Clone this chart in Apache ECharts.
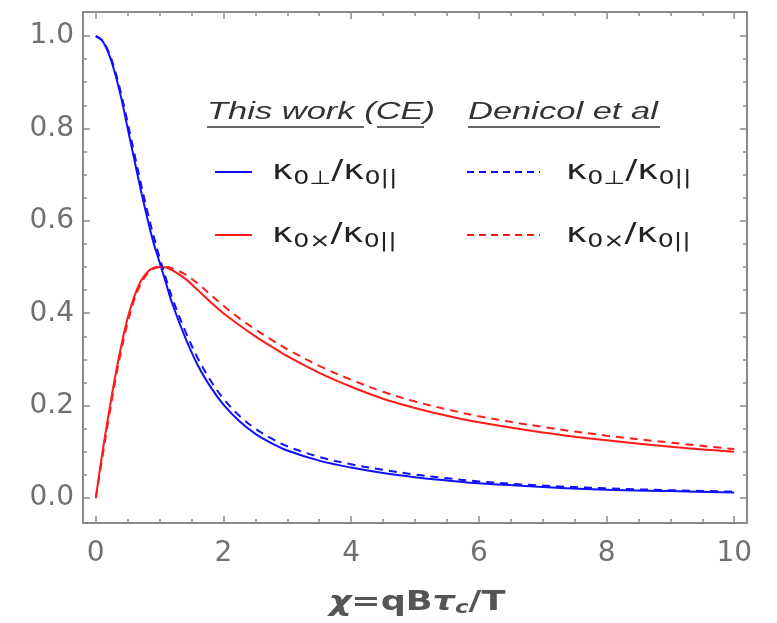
<!DOCTYPE html>
<html>
<head>
<meta charset="utf-8">
<script src="https://cdn.jsdelivr.net/npm/echarts@6/dist/echarts.min.js"></script>
<style>html,body{margin:0;padding:0;background:#fff}#c{width:777px;height:623px}</style>
</head>
<body>
<div id="c"></div>
<script>
// ---- data ----
const chi = [0,0.1,0.2,0.3,0.4,0.5,0.6,0.7,0.8,0.9,1.0,1.1,1.2,1.4,1.6,1.8,2.0,2.25,2.5,2.75,3.0,3.5,4.0,4.5,5.0,5.5,6.0,7.0,8.0,9.0,10.0];
const perpCE = [1.0,0.99,0.963,0.92,0.865,0.80,0.735,0.67,0.61,0.555,0.51,0.465,0.42,0.348,0.287,0.24,0.202,0.166,0.139,0.119,0.103,0.081,0.066,0.054,0.045,0.038,0.032,0.024,0.018,0.015,0.012];
const perpDen = [1.0,0.991,0.966,0.926,0.874,0.812,0.748,0.685,0.625,0.57,0.52,0.475,0.432,0.362,0.302,0.254,0.215,0.178,0.150,0.129,0.112,0.089,0.073,0.061,0.051,0.043,0.036,0.027,0.021,0.017,0.014];
const crossCE = [0,0.095,0.18,0.26,0.33,0.39,0.435,0.468,0.488,0.498,0.50,0.499,0.493,0.475,0.45,0.424,0.40,0.374,0.350,0.328,0.307,0.271,0.241,0.215,0.195,0.178,0.164,0.142,0.125,0.111,0.100];
const crossDen = [0,0.085,0.17,0.25,0.32,0.38,0.428,0.462,0.484,0.496,0.50,0.50,0.497,0.484,0.464,0.44,0.416,0.389,0.365,0.343,0.322,0.286,0.256,0.230,0.209,0.192,0.177,0.154,0.135,0.120,0.106];
const xMajor = [0,2,4,6,8,10];
const xMinor = [0.5,1,1.5,2.5,3,3.5,4.5,5,5.5,6.5,7,7.5,8.5,9,9.5];
const yMajor = [0,0.2,0.4,0.6,0.8,1.0];
const yMinor = [0.05,0.1,0.15,0.25,0.3,0.35,0.45,0.5,0.55,0.65,0.7,0.75,0.85,0.9,0.95];

const pairs = (xs, ys) => xs.map((x, i) => [x, ys[i]]);
const AX = '#8a8a8a';
const LBL = '#707070';

function xAx(pos, ticks, len, showLine, showLabel) {
  return {
    type: 'value', min: -0.2, max: 10.2, position: pos,
    axisLine: { show: showLine, onZero: false, lineStyle: { color: AX, width: 2 } },
    axisTick: { show: true, inside: true, length: len, customValues: ticks, lineStyle: { color: AX, width: 1.5 } },
    axisLabel: showLabel ? { show: true, customValues: ticks, margin: 17, color: LBL, fontSize: 28, fontFamily: 'DejaVu Sans', formatter: v => String(Math.round(v)) } : { show: false },
    splitLine: { show: false }
  };
}
function yAx(pos, ticks, len, showLine, showLabel) {
  return {
    type: 'value', min: -0.054, max: 1.052, position: pos,
    axisLine: { show: showLine, onZero: false, lineStyle: { color: AX, width: 2 } },
    axisTick: { show: true, inside: true, length: len, customValues: ticks, lineStyle: { color: AX, width: 1.5 } },
    axisLabel: showLabel ? { show: true, customValues: ticks, margin: 9, color: LBL, fontSize: 28, fontFamily: 'DejaVu Sans', formatter: v => v.toFixed(1) } : { show: false },
    splitLine: { show: false }
  };
}

const chart = echarts.init(document.getElementById('c'));
const kappa = (sub) => ({
  text: '{k|κ}{s|0' + sub + '}{k|/}{k|κ}{s|0||}',
  rich: {
    k: { fontSize: 27, fontFamily: 'DejaVu Sans', fill: '#222' },
    s: { fontSize: 19, fontFamily: 'DejaVu Sans', fill: '#222', padding: [15, 0, 0, 0] }
  }
});
function legText(x, y, sub) {
  const t = kappa(sub);
  return { type: 'text', x: x, y: y, scaleX: 1.33, style: Object.assign({ x: 0, y: 0, textVerticalAlign: 'middle', textAlign: 'left' }, t) };
}
function legLine(x1, x2, y, color, dashed) {
  return { type: 'line', shape: { x1: x1, y1: y, x2: x2, y2: y }, style: { stroke: color, lineWidth: 2, lineDash: dashed ? [7, 5] : null } };
}
const header = { fontSize: 23, fontFamily: 'Liberation Sans', fontStyle: 'italic', fill: '#333' };
const lineSeries = (name, ys, color, dashed, z) => ({
  name: name, type: 'line', data: pairs(chi, ys), showSymbol: false, smooth: 0.35,
  lineStyle: { color: color, width: 2, type: dashed ? [8, 6] : 'solid' }, z: z
});

chart.setOption({
  animation: false,
  backgroundColor: '#fff',
  grid: { left: 83, right: 30, top: 12, bottom: 100, show: false },
  xAxis: [xAx('bottom', xMajor, 7, true, true), xAx('bottom', xMinor, 4, false, false), xAx('top', xMajor, 7, true, false), xAx('top', xMinor, 4, false, false)],
  yAxis: [yAx('left', yMajor, 7, true, true), yAx('left', yMinor, 4, false, false), yAx('right', yMajor, 7, true, false), yAx('right', yMinor, 4, false, false)],
  series: [
    lineSeries('CE perp', perpCE, '#1010ff', false, 3),
    lineSeries('CE cross', crossCE, '#ff1a1a', false, 3),
    lineSeries('Den perp', perpDen, '#1010ff', true, 4),
    lineSeries('Den cross', crossDen, '#ff1a1a', true, 4)
  ],
  graphic: [
    { type: 'text', x: 207, y: 113, scaleX: 1.5, style: Object.assign({ text: 'This work (CE)', x: 0, y: 0, textVerticalAlign: 'middle' }, header) },
    { type: 'text', x: 468, y: 113, scaleX: 1.5, style: Object.assign({ text: 'Denicol et al', x: 0, y: 0, textVerticalAlign: 'middle' }, header) },
    { type: 'line', shape: { x1: 207, y1: 127, x2: 364, y2: 127 }, style: { stroke: '#666', lineWidth: 2 } },
    { type: 'line', shape: { x1: 377, y1: 127, x2: 424, y2: 127 }, style: { stroke: '#666', lineWidth: 2 } },
    { type: 'line', shape: { x1: 468, y1: 127, x2: 660, y2: 127 }, style: { stroke: '#666', lineWidth: 2 } },
    legLine(215, 252, 172, '#1010ff', false),
    legLine(215, 252, 235, '#ff1a1a', false),
    legLine(467, 540, 172, '#1010ff', true),
    legLine(467, 540, 235, '#ff1a1a', true),
    legText(272, 172, '⊥'),
    legText(272, 235, '×'),
    legText(566, 172, '⊥'),
    legText(566, 235, '×'),
    { type: 'text', x: 417, y: 603, scaleX: 1.35, style: {
        text: '{i|χ}{b|=qB}{i|τ}{c|c}{b|/T}', x: 0, y: 0, textAlign: 'center', textVerticalAlign: 'middle',
        rich: {
          i: { fontSize: 26, fontFamily: 'DejaVu Sans', fontWeight: 'bold', fontStyle: 'italic', fill: '#555' },
          b: { fontSize: 26, fontFamily: 'DejaVu Sans', fontWeight: 'bold', fill: '#555' },
          c: { fontSize: 17, fontFamily: 'DejaVu Sans', fontWeight: 'bold', fontStyle: 'italic', fill: '#555', padding: [12, 0, 0, 0] }
        } } }
  ]
});
</script>
</body>
</html>
